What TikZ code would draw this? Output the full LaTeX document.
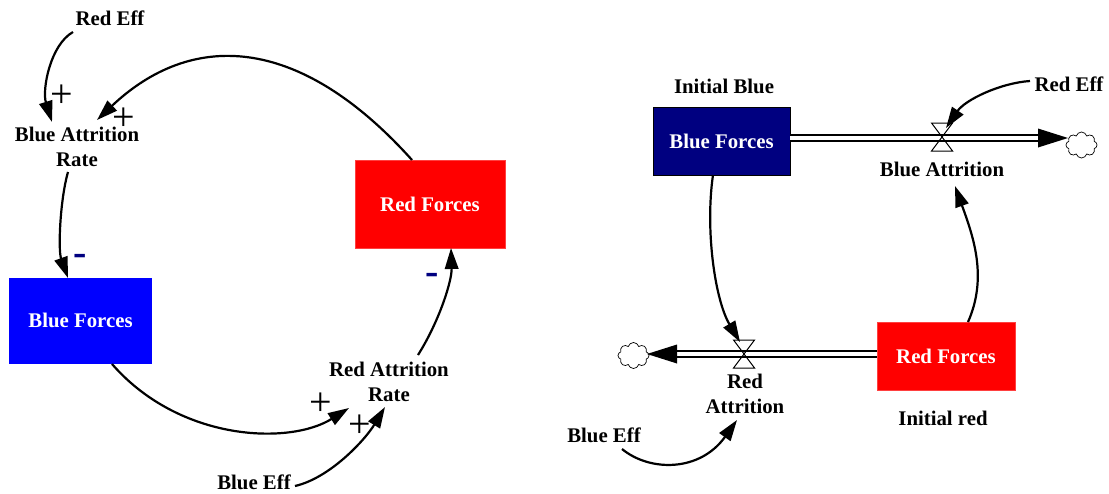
\documentclass[tikz,border=0pt]{standalone}
\usepackage{fontspec}
\setmainfont{Liberation Serif}
\usetikzlibrary{arrows.meta,shapes.symbols,calc}
\definecolor{navyc}{RGB}{0,0,128}
\definecolor{redc}{RGB}{255,0,0}
\definecolor{bluec}{RGB}{0,0,255}
\begin{document}
\begin{tikzpicture}[x=1pt,y=-1pt,
  lbl/.style={font=\fontsize{20.8}{25.5}\selectfont\bfseries, align=center, inner sep=0pt},
  boxed/.style n args={3}{lbl, text=white, fill=#1, minimum width=#2, minimum height=#3},
  conn/.style={-{Triangle[length=21pt,width=13.5pt]}, line width=2.2pt},
  pipe/.style={draw, double=white, double distance=4.5pt, line width=1.3pt},
  valve/.style={draw, line width=1pt},
  cloudy/.style={cloud, cloud puffs=8, cloud ignores aspect, draw, line width=0.7pt, minimum width=31pt, minimum height=26pt, inner sep=0pt},
  plussign/.style={font=\fontsize{40}{40}\selectfont, inner sep=0pt},
  minussign/.style={font=\fontsize{40}{40}\selectfont\bfseries, text=navyc, inner sep=0pt}
]
\useasboundingbox (0,0) rectangle (1109,493);

% ---------- left causal loop diagram ----------
\node[lbl] (lRedEff) at (110,18) {Red Eff};
\node[lbl] (lBAR) at (77,147) {Blue Attrition\\Rate};
\node[boxed={redc}{150pt}{88pt}, draw=red!75!white, line width=0.8pt] (lRF) at (430,204) {Red Forces};
\node[boxed={bluec}{143pt}{86pt}] (lBF) at (80.5,320.5) {Blue Forces};
\node[lbl] (lRAR) at (389,382) {Red Attrition\\Rate};
\node[lbl] (lBlueEff) at (254,482) {Blue Eff};

\draw[conn] ($(lRedEff)+(-37,14)$) .. controls +(-23,13) and +(-10,-32) .. ($(lBAR)+(-25,-25)$);
\draw[conn] ($(lRF)+(-18,-44)$) .. controls +(-115,-128) and +(93,-88) .. ($(lBAR)+(20,-27)$);
\draw[conn] ($(lBAR)+(-9,25)$) .. controls +(-8,28) and +(-10,-28) .. ($(lBF)+(-12.5,-42.5)$);
\draw[conn] ($(lBF)+(31.5,43.5)$) .. controls +(68,78) and +(-59,37) .. ($(lRAR)+(-40,26)$);
\draw[conn] ($(lBlueEff)+(41,4)$) .. controls +(35,-8) and +(-20,33) .. ($(lRAR)+(-4,25)$);
\draw[conn] ($(lRAR)+(29,-27)$) .. controls +(22,-35) and +(1,32) .. ($(lRF)+(21,44)$);

\node[plussign] (lp1) at (62,96) {+};
\node[plussign] (lp2) at (124,119) {+};
\node[plussign] (lp3) at (321,404) {+};
\node[plussign] (lp4) at (360,426) {+};
\node[minussign] (lm1) at (80,260) {-};
\node[minussign] (lm2) at (432,279) {-};

% ---------- right stock and flow diagram ----------
\node[lbl] (rInitBlue) at (724,86) {Initial Blue};
\node[boxed={navyc}{137pt}{68pt}, draw=black, line width=0.8pt] (rBF) at (721.5,141) {Blue Forces};
\node[boxed={redc}{138pt}{68pt}, draw=red!75!white, line width=0.8pt] (rRF) at (946,356) {Red Forces};
\node[lbl] (rInitRed) at (943,418) {Initial red};
\node[lbl] (rRedEff) at (1069,84) {Red Eff};
\node[lbl] (rBlueEff) at (604,435) {Blue Eff};
\node[lbl] (rBA) at (942,169) {Blue Attrition};
\node[lbl] (rRA) at (745,394) {Red\\Attrition};
\node[cloudy] (rCloudA) at (1081.5,145) {};
\node[cloudy] (rCloudB) at (633.5,355.5) {};
\coordinate (rVA) at (942,137);
\coordinate (rVB) at (744,354);
\coordinate (rHeadA) at (1038,138);
\coordinate (rHeadB) at (677,354);

% flow pipes
\draw[pipe] ($(rBF.east)+(0,-3)$) -- (rHeadA);
\fill ($(rHeadA)+(0,-9.5)$) -- ($(rHeadA)+(30,0)$) -- ($(rHeadA)+(0,9.5)$) -- cycle;
\draw[pipe] ($(rRF.west)+(0,-2)$) -- (rHeadB);
\fill ($(rHeadB)+(0,-9.5)$) -- ($(rHeadB)+(-30,0)$) -- ($(rHeadB)+(0,9.5)$) -- cycle;

% valves
\draw[valve] ($(rVA)+(-10.5,-14)$) -- ++(21,0) -- ++(-21,28) -- ++(21,0) -- cycle;
\draw[valve] ($(rVB)+(-10.5,-14)$) -- ++(21,0) -- ++(-21,28) -- ++(21,0) -- cycle;

% connectors
\draw[conn] ($(rRedEff)+(-39,-3)$) .. controls +(-30,2) and +(19,-28) .. ($(rVA)+(4,-9)$);
\draw[conn] ($(rBF)+(-8.5,34)$) .. controls +(-8,55) and +(-25,-42) .. ($(rVB)+(-4,-12)$);
\draw[conn] ($(rRF)+(22,-34)$) .. controls +(20,-45) and +(18,50) .. ($(rBA)+(13,17)$);
\draw[conn] ($(rBlueEff)+(18,14)$) .. controls +(28,23) and +(-37,52) .. ($(rRA)+(-8,26)$);
\end{tikzpicture}
\end{document}
